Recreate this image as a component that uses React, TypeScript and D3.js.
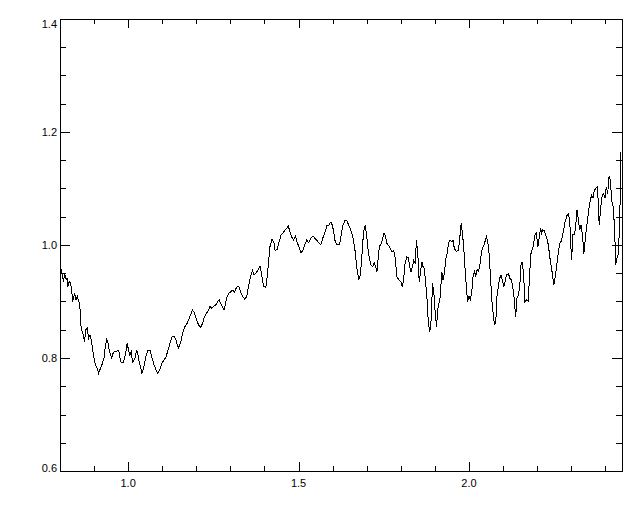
import React from 'react';
import * as d3 from 'd3';

// wavelength (micron)
const wavelength = [
  0.802, 0.806, 0.810, 0.814, 0.818, 0.821, 0.823, 0.827, 0.831, 0.835, 0.837, 0.841, 0.843, 0.847, 0.851, 0.855,
  0.858, 0.861, 0.865, 0.868, 0.872, 0.876, 0.880, 0.884, 0.888, 0.892, 0.896, 0.900, 0.904, 0.909, 0.913, 0.919,
  0.923, 0.929, 0.933, 0.937, 0.941, 0.945, 0.949, 0.952, 0.956, 0.960, 0.966, 0.970, 0.974, 0.978, 0.982, 0.986,
  0.990, 0.994, 0.997, 1.001, 1.005, 1.009, 1.013, 1.017, 1.021, 1.025, 1.029, 1.033, 1.037, 1.040, 1.044, 1.048,
  1.052, 1.058, 1.064, 1.068, 1.072, 1.076, 1.082, 1.087, 1.093, 1.099, 1.105, 1.111, 1.117, 1.123, 1.128, 1.134,
  1.140, 1.144, 1.148, 1.154, 1.160, 1.166, 1.172, 1.177, 1.183, 1.189, 1.195, 1.201, 1.207, 1.213, 1.218, 1.224,
  1.230, 1.236, 1.240, 1.246, 1.252, 1.257, 1.263, 1.267, 1.271, 1.277, 1.281, 1.285, 1.289, 1.295, 1.301, 1.306,
  1.312, 1.318, 1.324, 1.330, 1.336, 1.342, 1.348, 1.353, 1.359, 1.365, 1.369, 1.375, 1.381, 1.387, 1.390, 1.394,
  1.398, 1.404, 1.408, 1.412, 1.416, 1.422, 1.428, 1.431, 1.437, 1.443, 1.449, 1.455, 1.461, 1.467, 1.470, 1.474,
  1.479, 1.485, 1.491, 1.495, 1.501, 1.507, 1.513, 1.518, 1.524, 1.530, 1.536, 1.542, 1.548, 1.554, 1.560, 1.565,
  1.571, 1.577, 1.583, 1.589, 1.595, 1.599, 1.603, 1.606, 1.612, 1.618, 1.622, 1.626, 1.630, 1.636, 1.642, 1.647,
  1.653, 1.659, 1.665, 1.669, 1.673, 1.677, 1.681, 1.685, 1.689, 1.692, 1.696, 1.700, 1.704, 1.708, 1.712, 1.718,
  1.722, 1.726, 1.730, 1.733, 1.737, 1.743, 1.747, 1.751, 1.755, 1.759, 1.763, 1.769, 1.774, 1.779, 1.784, 1.788,
  1.794, 1.800, 1.804, 1.808, 1.812, 1.817, 1.822, 1.826, 1.830, 1.834, 1.838, 1.842, 1.846, 1.850, 1.854, 1.858,
  1.862, 1.865, 1.869, 1.873, 1.877, 1.881, 1.885, 1.889, 1.893, 1.897, 1.901, 1.905, 1.908, 1.912, 1.916, 1.920,
  1.924, 1.928, 1.932, 1.936, 1.940, 1.944, 1.950, 1.953, 1.957, 1.963, 1.969, 1.973, 1.977, 1.981, 1.985, 1.989,
  1.993, 1.996, 2.000, 2.004, 2.008, 2.012, 2.016, 2.020, 2.024, 2.028, 2.032, 2.035, 2.039, 2.043, 2.047, 2.051,
  2.055, 2.059, 2.063, 2.067, 2.071, 2.075, 2.079, 2.082, 2.086, 2.090, 2.094, 2.098, 2.102, 2.106, 2.110, 2.116,
  2.120, 2.125, 2.129, 2.133, 2.137, 2.141, 2.145, 2.149, 2.153, 2.157, 2.161, 2.164, 2.169, 2.174, 2.178, 2.182,
  2.188, 2.194, 2.198, 2.202, 2.206, 2.210, 2.213, 2.217, 2.221, 2.227, 2.233, 2.237, 2.243, 2.249, 2.253, 2.257,
  2.262, 2.266, 2.270, 2.274, 2.278, 2.282, 2.288, 2.292, 2.296, 2.299, 2.301, 2.305, 2.309, 2.313, 2.317, 2.321,
  2.325, 2.329, 2.333, 2.337, 2.341, 2.345, 2.348, 2.352, 2.356, 2.360, 2.364, 2.368, 2.372, 2.376, 2.380, 2.382,
  2.386, 2.389, 2.391, 2.395, 2.399, 2.403, 2.407, 2.411, 2.415, 2.419, 2.423, 2.427, 2.429, 2.431, 2.433, 2.437,
  2.441, 2.443, 2.445, 2.446,
];

// normalised flux at each wavelength
const flux = [
  0.959, 0.950, 0.935, 0.949, 0.938, 0.942, 0.926, 0.935, 0.933, 0.915, 0.900, 0.909, 0.915, 0.903, 0.909, 0.900,
  0.897, 0.858, 0.847, 0.841, 0.829, 0.850, 0.853, 0.835, 0.841, 0.832, 0.814, 0.800, 0.788, 0.782, 0.773, 0.782,
  0.788, 0.800, 0.820, 0.832, 0.827, 0.811, 0.805, 0.800, 0.809, 0.811, 0.811, 0.814, 0.809, 0.793, 0.791, 0.793,
  0.802, 0.814, 0.827, 0.814, 0.805, 0.811, 0.793, 0.796, 0.802, 0.814, 0.805, 0.791, 0.782, 0.773, 0.779, 0.791,
  0.802, 0.814, 0.814, 0.805, 0.796, 0.788, 0.779, 0.773, 0.779, 0.791, 0.796, 0.802, 0.814, 0.827, 0.837, 0.839,
  0.832, 0.823, 0.818, 0.827, 0.844, 0.855, 0.860, 0.867, 0.876, 0.885, 0.879, 0.867, 0.858, 0.854, 0.861, 0.873,
  0.879, 0.885, 0.891, 0.888, 0.892, 0.894, 0.900, 0.903, 0.897, 0.891, 0.885, 0.894, 0.906, 0.915, 0.917, 0.920,
  0.917, 0.925, 0.927, 0.917, 0.909, 0.904, 0.909, 0.926, 0.944, 0.955, 0.947, 0.950, 0.956, 0.963, 0.953, 0.938,
  0.927, 0.925, 0.944, 0.970, 0.997, 1.010, 1.003, 0.990, 0.992, 1.006, 1.018, 1.022, 1.027, 1.031, 1.034, 1.024,
  1.015, 1.009, 1.016, 1.006, 0.997, 0.986, 0.991, 1.000, 1.009, 1.004, 1.012, 1.016, 1.012, 1.008, 1.003, 1.000,
  1.012, 1.021, 1.034, 1.035, 1.041, 1.035, 1.024, 1.009, 1.001, 1.000, 1.006, 1.021, 1.035, 1.043, 1.043, 1.035,
  1.027, 1.015, 0.994, 0.970, 0.950, 0.939, 0.947, 0.973, 1.009, 1.027, 1.035, 1.015, 0.991, 0.976, 0.965, 0.962,
  0.969, 0.962, 0.953, 0.973, 0.997, 1.003, 1.012, 1.021, 1.016, 1.003, 1.000, 0.994, 0.988, 0.991, 0.976, 0.944,
  0.939, 0.935, 0.926, 0.938, 0.965, 0.979, 0.978, 0.962, 0.953, 0.962, 0.973, 0.967, 1.009, 0.982, 0.935, 0.953,
  0.970, 0.962, 0.959, 0.932, 0.903, 0.861, 0.847, 0.867, 0.932, 0.915, 0.879, 0.855, 0.885, 0.897, 0.909, 0.953,
  0.938, 0.950, 0.976, 0.985, 1.003, 1.008, 1.006, 1.009, 0.994, 0.988, 0.991, 1.012, 1.038, 1.021, 0.991, 0.953,
  0.920, 0.900, 0.909, 0.903, 0.915, 0.944, 0.953, 0.945, 0.956, 0.953, 0.965, 0.979, 0.994, 0.998, 1.006, 1.015,
  1.006, 0.985, 0.944, 0.903, 0.879, 0.858, 0.867, 0.909, 0.926, 0.941, 0.947, 0.938, 0.926, 0.935, 0.947, 0.949,
  0.941, 0.938, 0.924, 0.903, 0.873, 0.906, 0.912, 0.926, 0.968, 0.969, 0.938, 0.900, 0.903, 0.900, 0.950, 0.985,
  0.997, 1.018, 1.021, 0.997, 1.012, 1.030, 1.021, 1.027, 1.025, 1.015, 1.000, 0.979, 0.956, 0.929, 0.944, 0.962,
  0.985, 1.003, 1.006, 1.015, 1.027, 1.041, 1.053, 1.056, 1.038, 0.997, 0.973, 1.018, 1.018, 1.032, 1.062, 1.044,
  1.027, 1.035, 1.018, 0.985, 1.009, 1.032, 1.044, 1.065, 1.080, 1.088, 1.083, 1.097, 1.100, 1.103, 1.074, 1.035,
  1.062, 1.080, 1.088, 1.091, 1.083, 1.103, 1.091, 1.121, 1.115, 1.077, 1.068, 1.032, 0.997, 0.965, 0.976, 0.979,
  1.021, 1.068, 1.115, 1.165,
];

const xMajor = [1.0, 1.5, 2.0];
const xMinor = [0.9, 1.1, 1.2, 1.3, 1.4, 1.6, 1.7, 1.8, 1.9, 2.1, 2.2, 2.3, 2.4];
const yMajor = [0.6, 0.8, 1.0, 1.2, 1.4];
const yMinor = [0.65, 0.7, 0.75, 0.85, 0.9, 0.95, 1.05, 1.1, 1.15, 1.25, 1.3, 1.35];

const App = () => {
  const width = 640;
  const height = 512;
  const margin = { top: 19, right: 18, bottom: 41, left: 60 };
  const x0 = margin.left;
  const x1 = width - margin.right;
  const y0 = height - margin.bottom;
  const y1 = margin.top;

  const xScale = d3.scaleLinear().domain([0.8, 2.449]).range([x0, x1]);
  const yScale = d3.scaleLinear().domain([0.6, 1.4]).range([y0, y1]);

  const line = d3
    .line<number>()
    .x((d, i) => xScale(wavelength[i]))
    .y(d => yScale(d));

  const font = { fontFamily: '"Liberation Sans", Arial, sans-serif', fontSize: 11 };

  const ticks: JSX.Element[] = [];
  xMajor.concat(xMinor).forEach((v, i) => {
    const len = xMajor.includes(v) ? 9 : 5;
    const x = Math.round(xScale(v)) + 0.5;
    ticks.push(<line key={`xb${i}`} x1={x} x2={x} y1={y0} y2={y0 - len} />);
    ticks.push(<line key={`xt${i}`} x1={x} x2={x} y1={y1} y2={y1 + len} />);
  });
  yMajor.concat(yMinor).forEach((v, i) => {
    const len = yMajor.includes(v) ? 10 : 6;
    const y = Math.round(yScale(v)) + 0.5;
    ticks.push(<line key={`yl${i}`} x1={x0} x2={x0 + len} y1={y} y2={y} />);
    ticks.push(<line key={`yr${i}`} x1={x1} x2={x1 - len} y1={y} y2={y} />);
  });

  return (
    <div style={{ position: 'absolute', left: 0, top: 0 }}>
      <svg width={width} height={height} viewBox={`0 0 ${width} ${height}`} style={{ display: 'block', background: '#fff' }}>
        <path d={line(flux) || ''} fill="none" stroke="#000" strokeWidth={1} shapeRendering="crispEdges" />
        <g stroke="#000" strokeWidth={1} shapeRendering="crispEdges">
          <rect x={x0 + 0.5} y={y1 + 0.5} width={x1 - x0} height={y0 - y1} fill="none" />
          {ticks}
        </g>
        <g style={font} fill="#000">
          {xMajor.map(v => (
            <text key={`xl${v}`} x={xScale(v)} y={y0 + 16} textAnchor="middle">
              {v.toFixed(1)}
            </text>
          ))}
          {yMajor.map((v, i) => {
            let cy = yScale(v);
            if (i === 0) cy -= 3;
            if (i === yMajor.length - 1) cy += 5;
            return (
              <text key={`yl${v}`} x={x0 - 3} y={cy + 4} textAnchor="end">
                {v.toFixed(1)}
              </text>
            );
          })}
        </g>
      </svg>
    </div>
  );
};

export default App;
